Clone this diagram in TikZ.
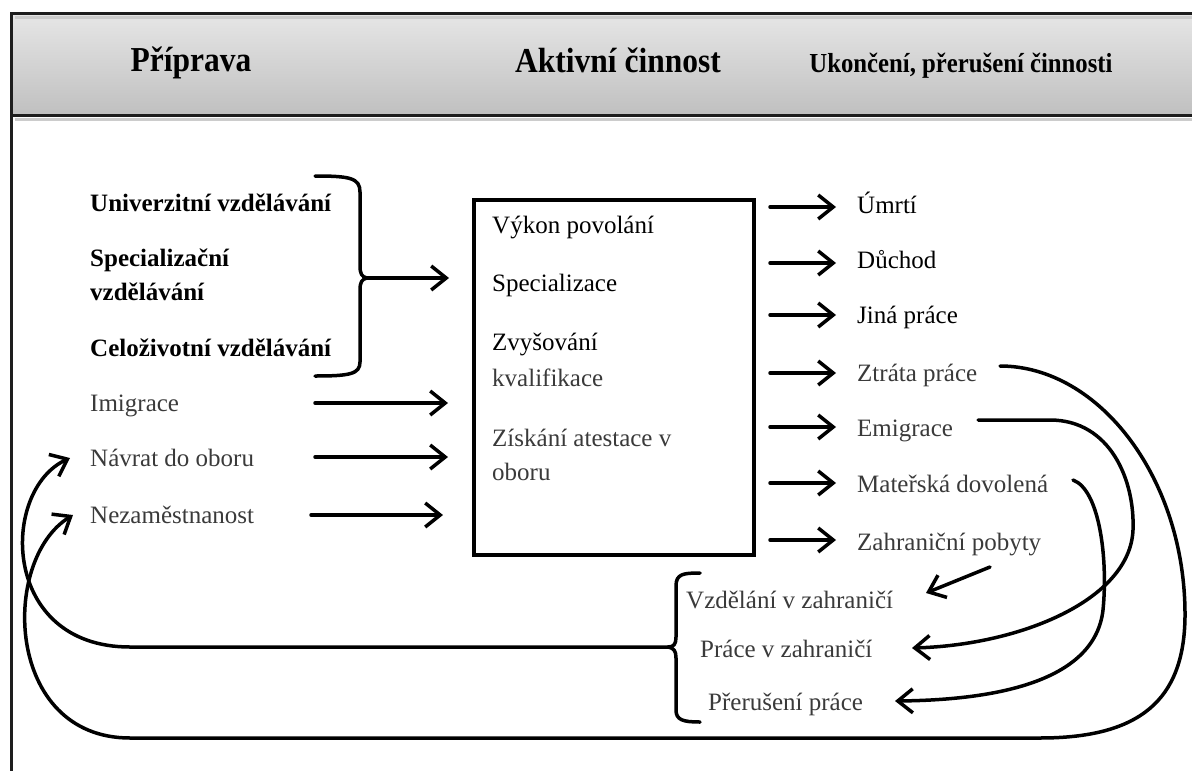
\documentclass[tikz,border=0pt]{standalone}
\usepackage{fontspec}
\setmainfont{Liberation Serif}
\newfontfamily\hdrfont[FakeStretch=0.9]{Liberation Serif}
\usetikzlibrary{arrows.meta}
\definecolor{txtgray}{HTML}{3A3A3A}
\definecolor{hdrtop}{HTML}{E6E6E6}
\definecolor{hdrbot}{HTML}{C0C0C0}
\definecolor{rimcol}{HTML}{1E1E1E}
\tikzset{
  body/.style={font=\fontsize{25}{30}\selectfont, inner sep=0pt, anchor=base west},
  dark/.style={body, text=black},
  soft/.style={body, text=txtgray},
  lead/.style={body, font=\fontsize{25}{30}\selectfont\bfseries, text=black},
  hdr/.style={inner sep=0pt, anchor=base, text=black, font=\fontsize{35}{40}\hdrfont\bfseries},
  link/.style={line width=3.5pt, line cap=round, line join=round,
               -{Straight Barb[length=15pt,width=24pt]}},
  rim/.style={line width=3.5pt, line cap=round, line join=round},
}
\begin{document}
\begin{tikzpicture}[x=1pt,y=-1pt]
\useasboundingbox (0,0) rectangle (1192,771);

% header band
\shade[top color=hdrtop, bottom color=hdrbot] (11,13) rectangle (1192,115);
\draw[line width=3pt, black!20] (15,17) -- (1192,17);
\draw[line width=3pt, black!20] (15,119) -- (1192,119);
\draw[line width=3pt, rimcol] (1192,13) -- (11,13) -- (11,771);
\draw[line width=3pt, rimcol] (11,115) -- (1192,115);

\node[hdr] (hprep) at (191,71) {Příprava};
\node[hdr] (hact) at (618,72) {Aktivní činnost};
\node[hdr, font=\fontsize{27.5}{32}\hdrfont\bfseries] (hend) at (961,72) {Ukončení, přerušení činnosti};

% preparation
\node[lead] (univ) at (90,211) {Univerzitní vzdělávání};
\node[lead] (spec1) at (90,266) {Specializační};
\node[lead] (spec2) at (90,300) {vzdělávání};
\node[lead] (celo) at (90,356) {Celoživotní vzdělávání};

\node[soft] (immig) at (90,411) {Imigrace};
\node[soft] (back) at (90,466) {Návrat do oboru};
\node[soft] (unemp) at (90,523) {Nezaměstnanost};

% brace joining the three kinds of education
\coordinate (btip) at (367,278);
\draw[rim] (315,176) .. controls (350,176) and (360,178) .. (360,192) -- (360,266)
  .. controls (360,274) and (362,277) .. (btip)
  .. controls (362,279) and (360,282) .. (360,290) -- (360,362)
  .. controls (360,374) and (350,376) .. (315,376);

% active practice
\node[draw, line width=3.5pt, minimum width=280, minimum height=355, anchor=north west,
      inner sep=0pt] (core) at (472,198) {};
\node[dark] (perf) at (492,233) {Výkon povolání};
\node[dark] (spz) at (492,291) {Specializace};
\node[dark] (raise1) at (492,350) {Zvyšování};
\node[soft] (raise2) at (492,386) {kvalifikace};
\node[soft] (cert1) at (492,446) {Získání atestace v};
\node[soft] (cert2) at (492,480) {oboru};

% arrows into the box
\coordinate (eduE) at (449,278);
\coordinate (imS) at (315,403);  \coordinate (imE) at (448,403);
\coordinate (bkS) at (315,457);  \coordinate (bkE) at (448,457);
\coordinate (unS) at (311,515);  \coordinate (unE) at (443,515);
\draw[link] (btip) -- (eduE);
\draw[link] (imS) -- (imE);
\draw[link] (bkS) -- (bkE);
\draw[link] (unS) -- (unE);

% end or break of practice
\node[dark] (death) at (857,213) {Úmrtí};
\node[dark] (pension) at (857,268) {Důchod};
\node[dark] (other) at (857,323) {Jiná práce};
\node[soft] (loss) at (857,381) {Ztráta práce};
\node[soft] (emig) at (857,436) {Emigrace};
\node[soft] (mat) at (857,492) {Mateřská dovolená};
\node[soft] (stay) at (857,550) {Zahraniční pobyty};

\coordinate (o1S) at (770,207); \coordinate (o1E) at (836,207);
\coordinate (o2S) at (770,263); \coordinate (o2E) at (836,263);
\coordinate (o3S) at (770,315); \coordinate (o3E) at (836,315);
\coordinate (o4S) at (770,373); \coordinate (o4E) at (836,373);
\coordinate (o5S) at (770,427); \coordinate (o5E) at (836,427);
\coordinate (o6S) at (770,483); \coordinate (o6E) at (836,483);
\coordinate (o7S) at (770,540); \coordinate (o7E) at (836,540);
\draw[link] (o1S) -- (o1E);
\draw[link] (o2S) -- (o2E);
\draw[link] (o3S) -- (o3E);
\draw[link] (o4S) -- (o4E);
\draw[link] (o5S) -- (o5E);
\draw[link] (o6S) -- (o6E);
\draw[link] (o7S) -- (o7E);

% stays abroad and breaks
\node[soft] (abedu) at (686,608) {Vzdělání v zahraničí};
\node[soft] (abwork) at (700,657) {Práce v zahraničí};
\node[soft] (pause) at (708,710) {Přerušení práce};

\coordinate (ltip) at (668,647);
\draw[rim] (700,573) .. controls (683,573) and (676,574) .. (676,586) -- (676,637)
  .. controls (676,644) and (674,647) .. (ltip)
  .. controls (674,648) and (676,651) .. (676,658) -- (676,710)
  .. controls (676,720) and (683,722) .. (700,722);

\coordinate (stayS) at (990,567);  \coordinate (abeduA) at (926,593);
\coordinate (emigS) at (978,420);  \coordinate (abworkA) at (912,648);
\coordinate (matS) at (1073,480);  \coordinate (pauseA) at (895,701);
\coordinate (lossS) at (1000,366);
\coordinate (backA) at (70,458);   \coordinate (unempA) at (73,515);

\draw[link] (stayS) -- (abeduA);
\draw[link] (emigS) -- (1050,420) .. controls (1110,420) and (1135,480) .. (1133,530)
  .. controls (1130,600) and (1020,645) .. (abworkA);
\draw[link] (matS) .. controls (1100,490) and (1108,560) .. (1103,610)
  .. controls (1095,680) and (1000,700) .. (pauseA);

% loops back to preparation
\draw[link] (ltip) -- (130,647) .. controls (0,647) and (0,490) .. (backA);
\draw[link] (lossS) .. controls (1100,366) and (1186,480) .. (1185,617)
  .. controls (1184,700) and (1140,738) .. (1040,738) -- (130,738)
  .. controls (5,738) and (0,560) .. (unempA);
\end{tikzpicture}
\end{document}
